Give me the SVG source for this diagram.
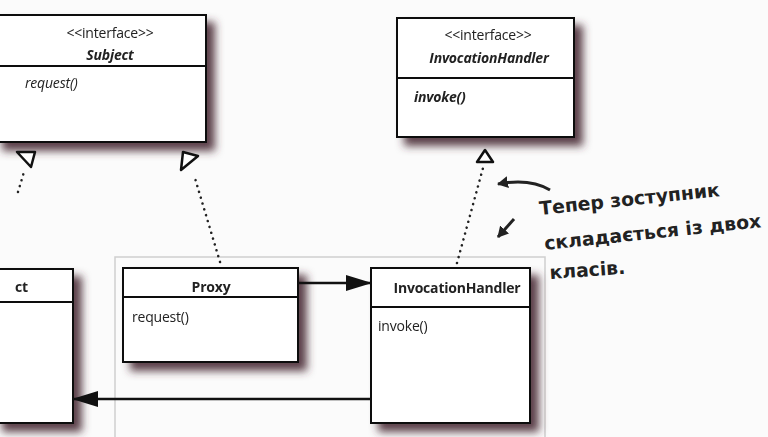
<svg xmlns="http://www.w3.org/2000/svg" width="768" height="437" viewBox="0 0 768 437">
<defs>
<style>
.box{fill:#fff;stroke:#111;stroke-width:2}
.div{stroke:#111;stroke-width:2}
.t{font-family:"Open Sans","Liberation Sans",sans-serif;fill:#222;font-size:14px;letter-spacing:-0.2px}
.b{font-weight:bold}
.i{font-style:italic}
.dot{stroke:#222;stroke-width:2.5;stroke-dasharray:0.1 6;stroke-linecap:round;fill:none}
.solid{stroke:#111;stroke-width:2.5;fill:none}
.hand{font-family:"DejaVu Sans","Noto Sans",sans-serif;font-weight:bold;font-size:18.8px;fill:#222}
.enc{fill:none;stroke:#cfcfcf;stroke-width:1.5}
.tri{fill:#fff;stroke:#111;stroke-width:2.5;stroke-linejoin:round}
</style>
<filter id="sh" x="-20%" y="-20%" width="150%" height="150%">
<feGaussianBlur in="SourceAlpha" stdDeviation="4.5"/>
<feOffset dx="8" dy="8" result="o"/>
<feFlood flood-color="#4a2c36" flood-opacity="0.9"/>
<feComposite in2="o" operator="in" result="s"/>
<feMerge><feMergeNode in="s"/><feMergeNode in="SourceGraphic"/></feMerge>
</filter>
<marker id="filled" viewBox="0 0 26 16" refX="25" refY="8" markerWidth="26" markerHeight="16" markerUnits="userSpaceOnUse" orient="auto">
<path d="M0,0 L26,8 L0,16 Z" fill="#111"/>
</marker>
<marker id="hand" viewBox="0 0 12 12" refX="10" refY="6" markerWidth="12" markerHeight="12" markerUnits="userSpaceOnUse" orient="auto">
<path d="M0,0 L11,6 L0,12 Z" fill="#222"/>
</marker>
</defs>
<rect width="768" height="437" fill="#fbfbfb"/>
<rect class="enc" x="115" y="257" width="430" height="200"/>

<g id="subject" filter="url(#sh)">
<rect class="box" x="-5" y="15" width="211" height="127"/>
<line class="div" x1="-5" y1="66" x2="206" y2="66"/>
<text class="t" x="110" y="38" text-anchor="middle">&lt;&lt;interface&gt;&gt;</text>
<text class="t b i" x="110" y="60" text-anchor="middle">Subject</text>
<text class="t i" x="25" y="88">request()</text>
</g>

<g id="invocationHandlerInterface" filter="url(#sh)">
<rect class="box" x="397" y="18" width="177" height="119"/>
<line class="div" x1="397" y1="78" x2="574" y2="78"/>
<text class="t" x="488" y="40" text-anchor="middle">&lt;&lt;interface&gt;&gt;</text>
<text class="t b i" x="489" y="63" text-anchor="middle">InvocationHandler</text>
<text class="t b i" x="414" y="102">invoke()</text>
</g>

<g id="realSubject" filter="url(#sh)">
<rect class="box" x="-5" y="269" width="78" height="154"/>
<line class="div" x1="-5" y1="302" x2="73" y2="302"/>
<text class="t b" x="28" y="292" text-anchor="end">ct</text>
</g>

<g id="proxy" filter="url(#sh)">
<rect class="box" x="123" y="268" width="175" height="94"/>
<line class="div" x1="123" y1="297" x2="298" y2="297"/>
<text class="t b" x="211" y="292" text-anchor="middle">Proxy</text>
<text class="t" x="132" y="322">request()</text>
</g>

<g id="invocationHandler" filter="url(#sh)">
<rect class="box" x="371" y="268" width="159" height="155"/>
<line class="div" x1="371" y1="307" x2="530" y2="307"/>
<text class="t b" x="457" y="293" text-anchor="middle">InvocationHandler</text>
<text class="t" x="378" y="331">invoke()</text>
</g>

<g id="connectors">
<path class="dot" d="M18,192 L24,172"/>
<path class="tri" d="M17,152 L35,152 L31,167 Z"/>
<path class="dot" d="M220,262 L194,175"/>
<path class="tri" d="M183,152 L198,156 L181,170 Z"/>
<path class="dot" d="M457,263 L483,168"/>
<path class="tri" d="M485,150 L477,162 L493,162 Z"/>
<line class="solid" x1="298" y1="283" x2="371" y2="283" marker-end="url(#filled)"/>
<line class="solid" x1="371" y1="399" x2="73" y2="399" marker-end="url(#filled)"/>
<path d="M550,190 Q530,178 498,184" stroke="#222" stroke-width="3" fill="none" marker-end="url(#hand)"/>
<path d="M514,219 L498,237" stroke="#222" stroke-width="3" fill="none" marker-end="url(#hand)"/>
</g>

<g id="note">
<text class="hand" x="540" y="215" transform="rotate(-6 540 215)">Тепер зоступник</text>
<text class="hand" x="545" y="250" transform="rotate(-6 545 250)">складається із двох</text>
<text class="hand" x="550" y="279" transform="rotate(-4 550 279)">класів.</text>
</g>
</svg>
